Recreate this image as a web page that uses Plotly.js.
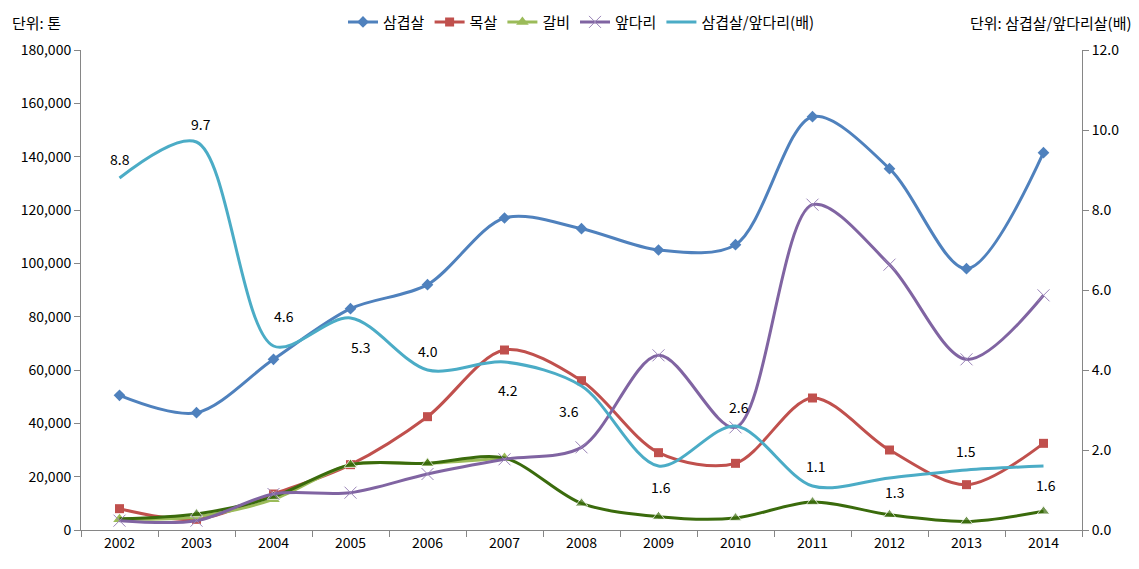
<!DOCTYPE html>
<html><head><meta charset="utf-8">
<script src="https://cdn.plot.ly/plotly-3.0.1.min.js"></script>
<style>html,body{margin:0;padding:0;background:#fff}#c{width:1139px;height:569px}</style>
</head><body><div id="c"></div>
<script>
const years = ['2002','2003','2004','2005','2006','2007','2008','2009','2010','2011','2012','2013','2014'];
const samgyeop = [50500,44000,64000,83000,92000,117000,113000,105000,107000,155000,135500,98000,141500];
const moksal = [8000,4000,13500,24500,42500,67500,56000,29000,25000,49500,30000,17000,32500];
const galbi = [4000,5000,11500,24500,25000,27000];
const galbiDark = [4200,6000,12500,24500,25000,27000,10000,5000,4500,10500,5700,3200,7000];
const apdari = [3500,3500,13500,14000,21000,26500,31000,65500,38500,122000,99500,64000,88000];
const ratio = [8.8,9.7,4.6,5.3,4.0,4.2,3.6,1.6,2.6,1.1,1.3,1.5,1.6];
const ratioText = ['8.8','9.7','4.6','5.3','4.0','4.2','3.6','1.6','2.6','1.1','1.3','1.5','1.6'];

// label offsets (px) relative to each ratio point
const labXShift = [0, 4, 10, 10, 0, 3, -13, 2, 3, 3, 5, -1, 2];
const labYShift = [19, 18, 30, -29, 19, -28, -25, -21, 19, 20, -14, 19, -19];

const F = '"Noto Sans CJK KR", "Noto Sans", sans-serif';
const lineBase = {shape:'spline', smoothing:0.9, width:3};

const traces = [
  {x:years, y:samgyeop, name:'삼겹살', type:'scatter', mode:'lines+markers',
   line:Object.assign({color:'#4F81BD'}, lineBase), marker:{symbol:'diamond', size:9, color:'#4F81BD'}},
  {x:years, y:moksal, name:'목살', type:'scatter', mode:'lines+markers',
   line:Object.assign({color:'#C0504D'}, lineBase), marker:{symbol:'square', size:9, color:'#C0504D'}},
  {x:years.slice(0,6), y:galbi, name:'갈비', type:'scatter', mode:'lines+markers',
   line:Object.assign({color:'#9BBB59'}, lineBase), marker:{symbol:'triangle-up', size:11, color:'#9BBB59'}},
  {x:years, y:galbiDark, name:'갈비(2)', showlegend:false, type:'scatter', mode:'lines+markers',
   line:Object.assign({color:'#3A6B0C'}, lineBase), marker:{symbol:'triangle-up', size:[0,11,11,11,11,0,11,11,11,11,11,11,11], color:'#3A6B0C'}},
  {x:years, y:apdari, name:'앞다리', type:'scatter', mode:'lines+markers',
   line:Object.assign({color:'#8064A2'}, lineBase), marker:{symbol:'x-thin', size:12, color:'#8064A2', line:{width:1, color:'#9A84B8'}}},
  {x:years, y:ratio, name:'삼겹살/앞다리(배)', type:'scatter', mode:'lines', yaxis:'y2',
   line:Object.assign({color:'#4BACC6'}, lineBase)}
];

const labelAnns = years.map((yr, i) => ({
  x: i, y: ratio[i], xref:'x', yref:'y2', text: ratioText[i], showarrow:false,
  xshift: labXShift[i], yshift: labYShift[i], font:{family:F, size:14, color:'#000'}
}));

const layout = {
  width:1139, height:569,
  margin:{l:81, r:57, t:50, b:39, autoexpand:false},
  paper_bgcolor:'#fff', plot_bgcolor:'#fff',
  font:{family:F, size:14, color:'#000'},
  showlegend:true,
  legend:{orientation:'h', x:0.5, xanchor:'center', y:1.058, yanchor:'middle', xref:'paper',
          font:{family:F, size:15, color:'#000'}, traceorder:'normal'},
  xaxis:{type:'category', range:[-0.5,12.5], showgrid:false, showline:true, linecolor:'#868686', linewidth:1,
         ticks:'outside', tickson:'boundaries', ticklen:6, tickcolor:'#868686',
         tickfont:{family:F, size:14, color:'#000'}, zeroline:false, fixedrange:true},
  yaxis:{range:[0,180000], dtick:20000, tickformat:',d', showgrid:false, showline:true, linecolor:'#868686',
         linewidth:1, ticks:'outside', ticklen:6, tickcolor:'#868686', zeroline:false,
         tickfont:{family:F, size:14, color:'#000'}},
  yaxis2:{range:[0,12], dtick:2, tickformat:'.1f', overlaying:'y', side:'right', showgrid:false, showline:true,
          linecolor:'#868686', linewidth:1, ticks:'outside', ticklen:6, tickcolor:'#868686', zeroline:false,
          tickfont:{family:F, size:14, color:'#000'}},
  annotations:[
    {text:'단위: 톤', xref:'paper', yref:'paper', x:-0.071, y:1.058, xanchor:'left', yanchor:'middle', showarrow:false,
     font:{family:F, size:15, color:'#000'}},
    {text:'단위: 삼겹살/앞다리살(배)', xref:'paper', yref:'paper', x:1.052, y:1.058, xanchor:'right', yanchor:'middle', showarrow:false,
     font:{family:F, size:15, color:'#000'}}
  ].concat(labelAnns)
};
Plotly.newPlot('c', traces, layout, {displayModeBar:false, staticPlot:true});
</script></body></html>
